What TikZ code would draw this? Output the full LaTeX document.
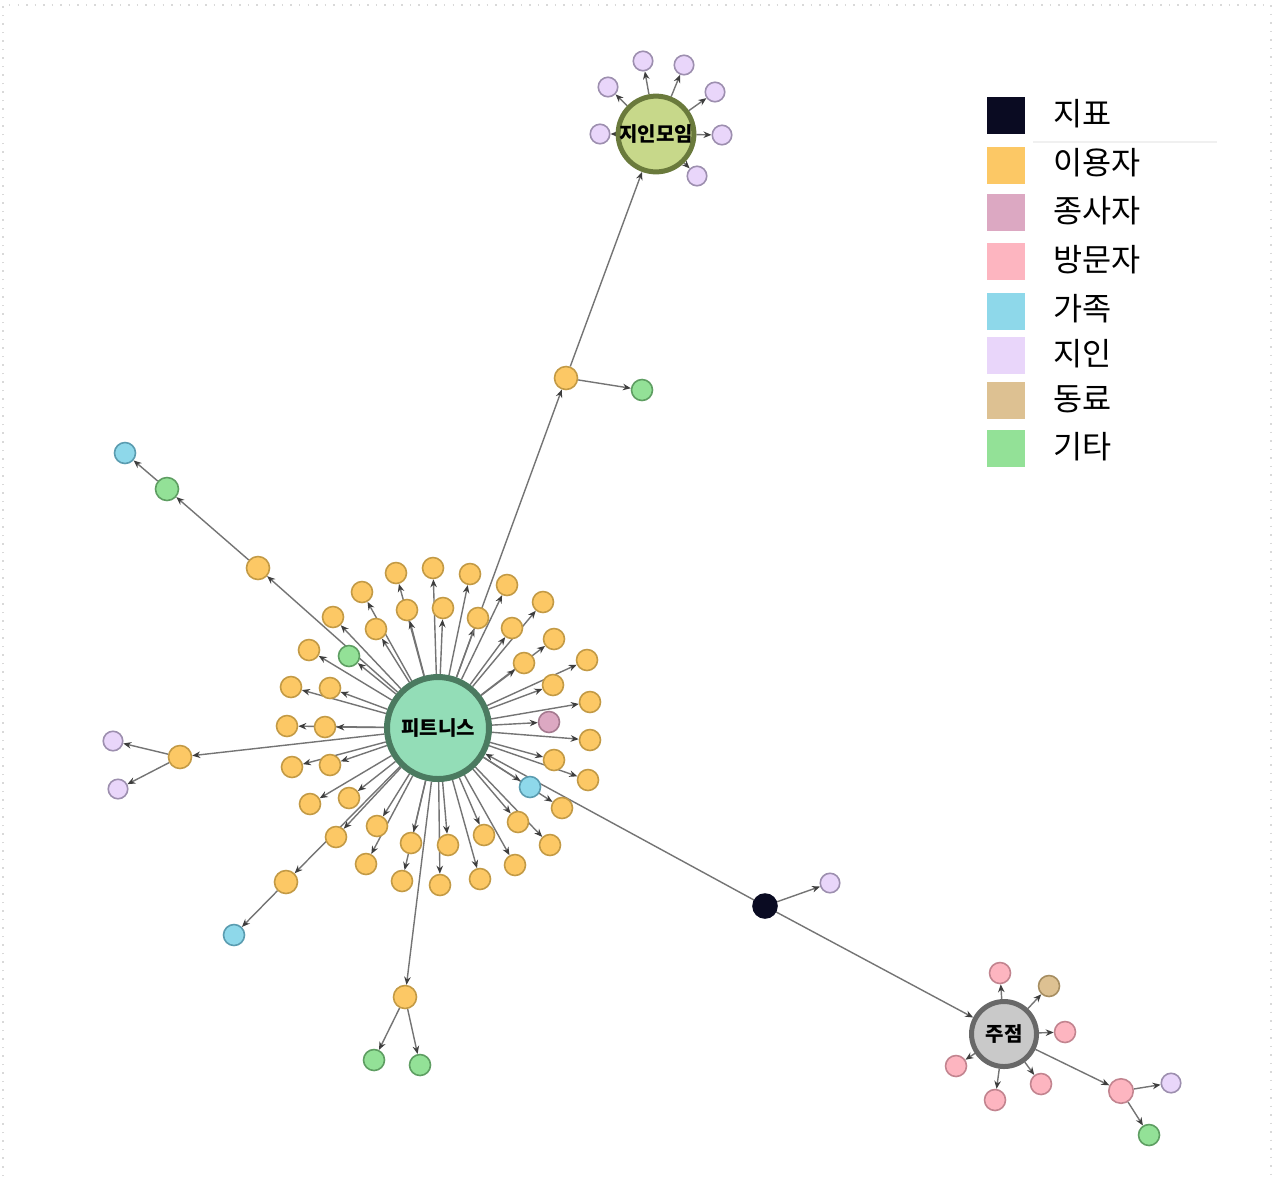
\documentclass[tikz,border=0pt]{standalone}
\usepackage{fontspec}
\newfontfamily\kr{Noto Sans CJK KR}
\usetikzlibrary{arrows.meta}
\pgfdeclarelayer{back}
\pgfdeclarelayer{bg}
\pgfsetlayers{back,bg,main}
\definecolor{cY}{HTML}{FCC865}
\definecolor{cYb}{HTML}{C39A45}
\definecolor{cG}{HTML}{93E197}
\definecolor{cGb}{HTML}{5E9E62}
\definecolor{cB}{HTML}{8ED8EA}
\definecolor{cBb}{HTML}{5A9CB0}
\definecolor{cL}{HTML}{E9D6FA}
\definecolor{cLb}{HTML}{9D8FAF}
\definecolor{cP}{HTML}{FDB5C0}
\definecolor{cPb}{HTML}{C2848F}
\definecolor{cM}{HTML}{DCA8C2}
\definecolor{cMb}{HTML}{A57A90}
\definecolor{cT}{HTML}{DDC192}
\definecolor{cTb}{HTML}{A68E62}
\definecolor{cK}{HTML}{0A0B22}
\definecolor{cFit}{HTML}{93DDB7}
\definecolor{cFitb}{HTML}{4B7A60}
\definecolor{cMeet}{HTML}{C7D88A}
\definecolor{cMeetb}{HTML}{6A7A3C}
\definecolor{cBar}{HTML}{C9C9C9}
\definecolor{cBarb}{HTML}{686868}
\definecolor{cE}{HTML}{747474}
\definecolor{cA}{HTML}{3E3E3E}
\begin{document}
\begin{tikzpicture}[x=0.1mm,y=-0.1mm,
  nd/.style={circle, inner sep=0pt, minimum size=2.1mm, line width=0.16mm},
  big/.style={minimum size=2.3mm},
  yel/.style={nd, fill=cY, draw=cYb},
  grn/.style={nd, fill=cG, draw=cGb},
  blu/.style={nd, fill=cB, draw=cBb},
  lil/.style={nd, fill=cL, draw=cLb, minimum size=1.95mm},
  pnk/.style={nd, fill=cP, draw=cPb},
  mav/.style={nd, fill=cM, draw=cMb},
  tanc/.style={nd, fill=cT, draw=cTb},
  blk/.style={nd, fill=cK, draw=cK, minimum size=2.4mm},
  hublabel/.style={font=\kr\bfseries\fontsize{5.7pt}{6pt}\selectfont, text=black},
  edge/.style={draw=cE, line width=0.14mm, -{Stealth[length=0.8mm,width=0.65mm,color=cA]}},
  legsq/.style={rectangle, inner sep=0pt, minimum width=3.8mm, minimum height=3.7mm},
  legtx/.style={anchor=west, inner sep=0pt, font=\kr\fontsize{9pt}{10pt}\selectfont, text=black}
]
\useasboundingbox (0,0) rectangle (1273,1176);
\begin{pgfonlayer}{back}
\fill[white] (0,0) rectangle (1273,1176);
\draw[black!15, dotted, line width=0.15mm] (3,1176) -- (3,5) -- (1271,5) -- (1271,1176);
\end{pgfonlayer}

% hubs
\node[circle, inner sep=0pt, minimum size=10.2mm, fill=cFit, draw=cFitb, line width=0.6mm, hublabel] (fit) at (438,728) {피트니스};
\node[circle, inner sep=0pt, minimum size=7.3mm, fill=cMeet, draw=cMeetb, line width=0.5mm, hublabel] (meet) at (656,134) {지인모임};
\node[circle, inner sep=0pt, minimum size=6.5mm, fill=cBar, draw=cBarb, line width=0.5mm, hublabel] (bar) at (1004,1034) {주점};

% outer ring
\node[yel] (o1) at (396,573) {};
\node[yel] (o2) at (433,568) {};
\node[yel] (o3) at (470,574) {};
\node[yel] (o4) at (507,585) {};
\node[yel] (o5) at (543,602) {};
\node[yel] (o6) at (554,639) {};
\node[yel] (o7) at (587,660) {};
\node[yel] (o8) at (590,702) {};
\node[yel] (o9) at (590,740) {};
\node[yel] (o10) at (588,780) {};
\node[yel] (o11) at (562,808) {};
\node[yel] (o12) at (550,845) {};
\node[yel] (o13) at (515,865) {};
\node[yel] (o14) at (480,879) {};
\node[yel] (o15) at (440,885) {};
\node[yel] (o16) at (402,881) {};
\node[yel] (o17) at (366,864) {};
\node[yel] (o18) at (336,837) {};
\node[yel] (o19) at (310,804) {};
\node[yel] (o20) at (292,767) {};
\node[yel] (o21) at (287,726) {};
\node[yel] (o22) at (291,687) {};
\node[yel] (o23) at (309,650) {};
\node[yel] (o24) at (333,617) {};
\node[yel] (o25) at (362,592) {};
% inner ring
\node[yel] (i1) at (407,610) {};
\node[yel] (i2) at (443,608) {};
\node[yel] (i3) at (478,618) {};
\node[yel] (i4) at (512,628) {};
\node[yel] (i5) at (524,663) {};
\node[yel] (i6) at (553,685) {};
\node[mav] (i7) at (549,722) {};
\node[yel] (i8) at (554,760) {};
\node[blu] (i9) at (530,787) {};
\node[yel] (i10) at (518,822) {};
\node[yel] (i11) at (484,835) {};
\node[yel] (i12) at (448,845) {};
\node[yel] (i13) at (411,843) {};
\node[yel] (i14) at (377,826) {};
\node[yel] (i15) at (349,798) {};
\node[yel] (i16) at (330,765) {};
\node[yel] (i17) at (325,727) {};
\node[yel] (i18) at (330,688) {};
\node[grn] (i19) at (349,656) {};
\node[yel] (i20) at (376,629) {};

% branches
\node[yel,big] (yA) at (258,568) {};
\node[grn,big] (gA) at (167,489) {};
\node[blu] (bA) at (125,453) {};
\node[yel,big] (yB) at (180,757) {};
\node[lil] (lA) at (113,741) {};
\node[lil] (lB) at (118,789) {};
\node[yel,big] (yC) at (286,882) {};
\node[blu] (bC) at (234,935) {};
\node[yel,big] (yD) at (405,997) {};
\node[grn] (gD1) at (374,1060) {};
\node[grn] (gD2) at (420,1065) {};
\node[yel,big] (yE) at (566,378) {};
\node[grn] (gE) at (642,390) {};

\node[lil] (m1) at (643,61) {};
\node[lil] (m2) at (684,65) {};
\node[lil] (m3) at (715,92) {};
\node[lil] (m4) at (722,135) {};
\node[lil] (m5) at (697,176) {};
\node[lil] (m6) at (608,87) {};
\node[lil] (m7) at (600,134) {};

\node[blk] (K) at (765,906) {};
\node[lil] (lK) at (830,883) {};

\node[pnk] (p1) at (1000,973) {};
\node[tanc] (t1) at (1049,986) {};
\node[pnk] (p2) at (1065,1032) {};
\node[pnk] (p3) at (1041,1084) {};
\node[pnk] (p4) at (995,1100) {};
\node[pnk] (p5) at (956,1066) {};
\node[pnk,big,minimum size=2.45mm] (P) at (1121,1091) {};
\node[lil] (lP) at (1171,1083) {};
\node[grn] (gP) at (1149,1135) {};

\begin{pgfonlayer}{bg}
\foreach \n in {o1,o2,o3,o4,o5,o6,o7,o8,o9,o10,o11,o12,o13,o14,o15,o16,o17,o18,o19,o20,o21,o22,o23,o24,o25,i1,i2,i3,i4,i5,i6,i7,i8,i9,i10,i11,i12,i13,i14,i15,i16,i17,i18,i19,i20,yA,yB,yC,yD,yE}
  \draw[edge] (fit) -- (\n);
\draw[edge] (yA) -- (gA);
\draw[edge] (gA) -- (bA);
\draw[edge] (yB) -- (lA);
\draw[edge] (yB) -- (lB);
\draw[edge] (yC) -- (bC);
\draw[edge] (yD) -- (gD1);
\draw[edge] (yD) -- (gD2);
\draw[edge] (yE) -- (gE);
\draw[edge] (yE) -- (meet);
\foreach \n in {m1,m2,m3,m4,m5,m6,m7}
  \draw[edge] (meet) -- (\n);
\draw[edge] (K) -- (fit);
\draw[edge] (K) -- (lK);
\draw[edge] (K) -- (bar);
\foreach \n in {p1,t1,p2,p3,p4,p5,P}
  \draw[edge] (bar) -- (\n);
\draw[edge] (P) -- (lP);
\draw[edge] (P) -- (gP);
\end{pgfonlayer}

% legend
\draw[black!6, line width=0.12mm] (1033,142) -- (1217,142);
\node[legsq, fill=cK] (s1) at (1006,115) {};
\node[legsq, fill=cY] (s2) at (1006,165) {};
\node[legsq, fill=cM] (s3) at (1006,212) {};
\node[legsq, fill=cP] (s4) at (1006,261) {};
\node[legsq, fill=cB] (s5) at (1006,311) {};
\node[legsq, fill=cL] (s6) at (1006,355) {};
\node[legsq, fill=cT] (s7) at (1006,400) {};
\node[legsq, fill=cG] (s8) at (1006,448) {};
\node[legtx] (t1l) at (1053,114) {지표};
\node[legtx] (t2l) at (1053,163) {이용자};
\node[legtx] (t3l) at (1053,211) {종사자};
\node[legtx] (t4l) at (1053,260) {방문자};
\node[legtx] (t5l) at (1053,309) {가족};
\node[legtx] (t6l) at (1053,354) {지인};
\node[legtx] (t7l) at (1053,399) {동료};
\node[legtx] (t8l) at (1053,447) {기타};
\end{tikzpicture}
\end{document}
